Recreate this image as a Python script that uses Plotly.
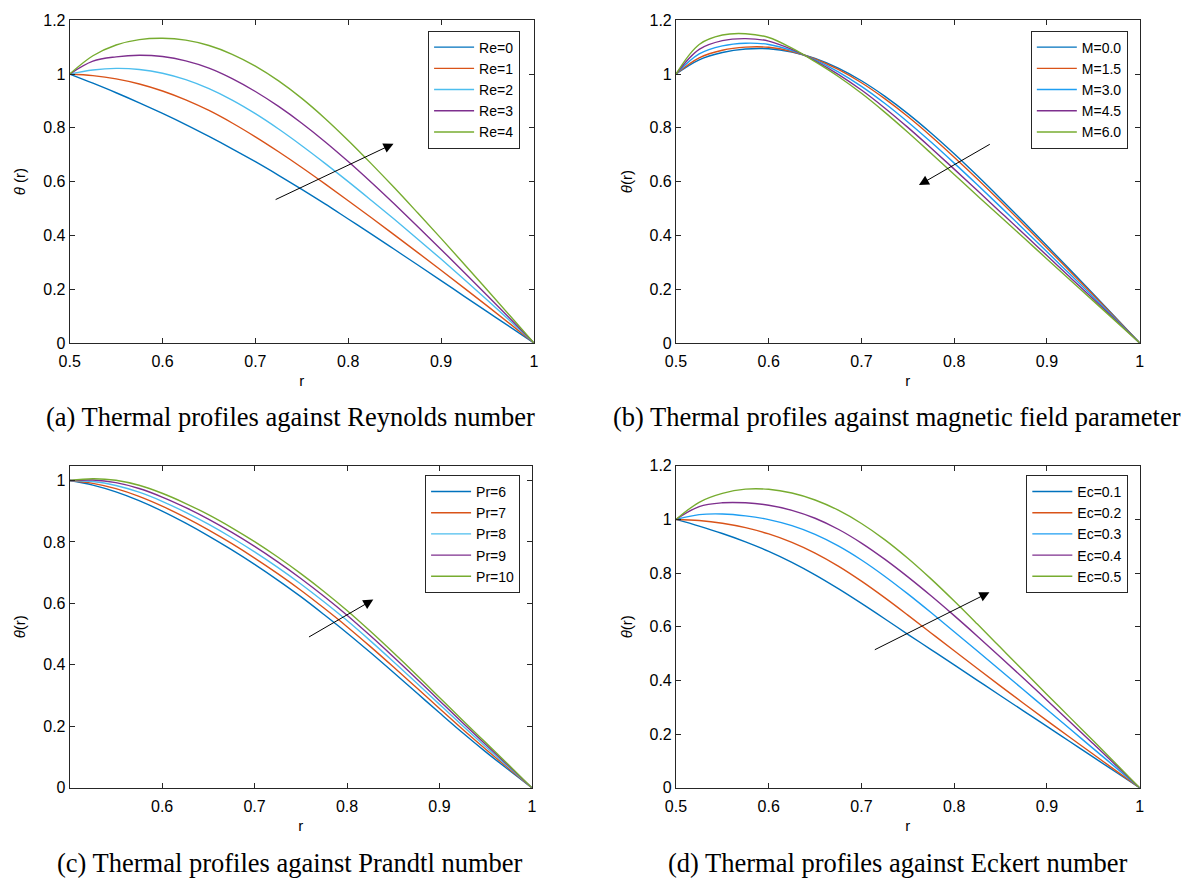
import plotly.graph_objects as go

# ---------------- data ----------------
r_vals = [0.5, 0.525, 0.55, 0.575, 0.6, 0.625, 0.65, 0.675, 0.7, 0.725, 0.75,
          0.775, 0.8, 0.825, 0.85, 0.875, 0.9, 0.925, 0.95, 0.975, 1.0]

# (a) Reynolds number
re_names = ["Re=0", "Re=1", "Re=2", "Re=3", "Re=4"]
theta_re0 = [1.0, 0.966, 0.9305, 0.893, 0.8535, 0.812, 0.768, 0.722, 0.674, 0.6235, 0.571,
             0.517, 0.461, 0.405, 0.3475, 0.290, 0.232, 0.1735, 0.1155, 0.0578, 0.0]
theta_re1 = [1.0, 0.994, 0.982, 0.963, 0.937, 0.904, 0.8645, 0.818, 0.7665, 0.711, 0.6525,
             0.5915, 0.529, 0.4655, 0.401, 0.336, 0.2705, 0.204, 0.137, 0.069, 0.0]
theta_re2 = [1.0, 1.015, 1.021, 1.017, 1.003, 0.979, 0.9455, 0.903, 0.8525, 0.7955, 0.7335,
             0.668, 0.600, 0.530, 0.459, 0.386, 0.312, 0.236, 0.159, 0.080, 0.0]
theta_re3 = [1.0, 1.048, 1.064, 1.070, 1.065, 1.049, 1.022, 0.983, 0.935, 0.8795, 0.817,
             0.7485, 0.6745, 0.5965, 0.5155, 0.4325, 0.348, 0.2625, 0.176, 0.0885, 0.0]
theta_re4 = [1.0, 1.068, 1.108, 1.128, 1.133, 1.126, 1.106, 1.0735, 1.0295, 0.9745, 0.9095,
             0.835, 0.753, 0.666, 0.576, 0.483, 0.389, 0.293, 0.196, 0.0985, 0.0]

# (b) magnetic field parameter
m_names = ["M=0.0", "M=1.5", "M=3.0", "M=4.5", "M=6.0"]
theta_m0 = [1.0, 1.053, 1.080, 1.093, 1.094, 1.082, 1.058, 1.022, 0.975, 0.918, 0.853,
            0.781, 0.7035, 0.6215, 0.5365, 0.4495, 0.3613, 0.272, 0.182, 0.0913, 0.0]
theta_m1 = [1.0, 1.060, 1.0885, 1.100, 1.0995, 1.084, 1.056, 1.017, 0.9676, 0.9085, 0.842,
            0.769, 0.691, 0.610, 0.526, 0.440, 0.3535, 0.266, 0.178, 0.0893, 0.0]
theta_m2 = [1.0, 1.0747, 1.1047, 1.1147, 1.110, 1.0873, 1.0526, 1.008, 0.9541, 0.8912, 0.8217,
            0.747, 0.6688, 0.5882, 0.5061, 0.4232, 0.3393, 0.2551, 0.1705, 0.0855, 0.0]
theta_m3 = [1.0, 1.0918, 1.1242, 1.1318, 1.1226, 1.0915, 1.0491, 0.9991, 0.9406, 0.874, 0.8016,
            0.7251, 0.6465, 0.5667, 0.4865, 0.4062, 0.325, 0.2442, 0.1631, 0.0818, 0.0]
theta_m4 = [1.0, 1.110, 1.145, 1.150, 1.136, 1.096, 1.046, 0.991, 0.9285, 0.8585, 0.7835,
            0.7055, 0.6265, 0.5475, 0.469, 0.391, 0.3125, 0.2345, 0.1565, 0.0785, 0.0]

# (c) Prandtl number
pr_names = ["Pr=6", "Pr=7", "Pr=8", "Pr=9", "Pr=10"]
theta_pr6 = [1.0, 0.985, 0.963, 0.9345, 0.9005, 0.862, 0.820, 0.775, 0.727, 0.676, 0.622,
             0.564, 0.504, 0.441, 0.376, 0.310, 0.244, 0.179, 0.117, 0.058, 0.0]
theta_pr7 = [1.0, 0.9909, 0.9736, 0.9485, 0.9167, 0.8799, 0.8393, 0.7952, 0.7477, 0.697, 0.643,
             0.585, 0.5244, 0.4603, 0.3939, 0.3262, 0.258, 0.1905, 0.1254, 0.0625, 0.0]
theta_pr8 = [1.0, 0.9966, 0.9839, 0.962, 0.9324, 0.8972, 0.858, 0.8146, 0.7677, 0.7173, 0.6633,
             0.6053, 0.5442, 0.479, 0.4112, 0.3419, 0.2715, 0.2016, 0.1335, 0.0668, 0.0]
theta_pr9 = [1.0, 1.0016, 0.993, 0.974, 0.9463, 0.9126, 0.8745, 0.8319, 0.7855, 0.7353, 0.6813,
             0.6233, 0.5617, 0.4955, 0.4266, 0.3558, 0.2835, 0.2114, 0.1407, 0.0706, 0.0]
theta_pr10 = [1.0, 1.006, 1.001, 0.9845, 0.9585, 0.926, 0.889, 0.847, 0.801, 0.751, 0.697,
              0.639, 0.577, 0.510, 0.440, 0.368, 0.294, 0.220, 0.147, 0.074, 0.0]

# (d) Eckert number
ec_names = ["Ec=0.1", "Ec=0.2", "Ec=0.3", "Ec=0.4", "Ec=0.5"]
theta_ec1 = [1.0, 0.975, 0.9475, 0.9165, 0.881, 0.840, 0.7935, 0.742, 0.687, 0.630, 0.572,
             0.515, 0.4578, 0.4005, 0.343, 0.286, 0.229, 0.1715, 0.114, 0.057, 0.0]
theta_ec2 = [1.0, 0.996, 0.986, 0.9695, 0.946, 0.9145, 0.8745, 0.826, 0.770, 0.7085, 0.6435,
             0.577, 0.5105, 0.4445, 0.379, 0.314, 0.2505, 0.1875, 0.125, 0.0623, 0.0]
theta_ec3 = [1.0, 1.018, 1.0205, 1.0135, 0.9995, 0.977, 0.9445, 0.9015, 0.849, 0.7885, 0.7225,
             0.653, 0.5818, 0.5098, 0.437, 0.3643, 0.2915, 0.2188, 0.146, 0.0733, 0.0]
theta_ec4 = [1.0, 1.048, 1.062, 1.062, 1.053, 1.034, 1.0045, 0.9635, 0.912, 0.852, 0.786,
             0.7155, 0.6415, 0.565, 0.4868, 0.4073, 0.3265, 0.2453, 0.1638, 0.082, 0.0]
theta_ec5 = [1.0, 1.064, 1.097, 1.113, 1.1125, 1.0985, 1.0725, 1.0345, 0.985, 0.925, 0.8555,
             0.7785, 0.696, 0.610, 0.5225, 0.435, 0.348, 0.2615, 0.175, 0.088, 0.0]

x_ticks = [0.5, 0.6, 0.7, 0.8, 0.9, 1.0]
x_ticktext = ["0.5", "0.6", "0.7", "0.8", "0.9", "1"]
x_ticks_c = [0.6, 0.7, 0.8, 0.9, 1.0]
x_ticktext_c = ["0.6", "0.7", "0.8", "0.9", "1"]
y_ticks = [0, 0.2, 0.4, 0.6, 0.8, 1.0, 1.2]
y_ticktext = ["0", "0.2", "0.4", "0.6", "0.8", "1", "1.2"]
y_ticks_c = [0, 0.2, 0.4, 0.6, 0.8, 1.0]
y_ticktext_c = ["0", "0.2", "0.4", "0.6", "0.8", "1"]

captions = [
    "(a) Thermal profiles against Reynolds number",
    "(b) Thermal profiles against magnetic field parameter",
    "(c) Thermal profiles against Prandtl number",
    "(d) Thermal profiles against Eckert number",
]

# ---------------- styling ----------------
W, H = 1194, 889
colors_a = ["#0072BD", "#D95319", "#4DBEEE", "#7E2F8E", "#77AC30"]
colors_b = ["#0072BD", "#D95319", "#1E9EF2", "#7E2F8E", "#77AC30"]
SANS = "Liberation Sans, Arial, sans-serif"
SERIF = "Liberation Serif, Times New Roman, serif"
AX = "#262626"


def px(x):
    return x / W


def py(y):
    return 1 - y / H


fig = go.Figure()

panels = [
    ([theta_re0, theta_re1, theta_re2, theta_re3, theta_re4], re_names, colors_a, "x", "y", "legend"),
    ([theta_m0, theta_m1, theta_m2, theta_m3, theta_m4], m_names, colors_b, "x2", "y2", "legend2"),
    ([theta_pr6, theta_pr7, theta_pr8, theta_pr9, theta_pr10], pr_names, colors_a, "x3", "y3", "legend3"),
    ([theta_ec1, theta_ec2, theta_ec3, theta_ec4, theta_ec5], ec_names, colors_b, "x4", "y4", "legend4"),
]
for series, names, cols, xa, ya, lg in panels:
    for s, n, c in zip(series, names, cols):
        fig.add_trace(go.Scatter(
            x=r_vals, y=s, name=n, mode="lines",
            line=dict(color=c, width=1.4, shape="spline", smoothing=1.0),
            xaxis=xa, yaxis=ya, legend=lg, showlegend=True,
        ))


def xd(x0, x1):
    return [px(x0), px(x1)]


def yd(top, bottom):
    return [py(bottom), py(top)]


axis_common = dict(
    showline=True, linecolor=AX, linewidth=1, mirror="ticks",
    ticks="inside", ticklen=5, tickcolor=AX, tickwidth=1,
    showgrid=False, zeroline=False,
    tickfont=dict(family=SANS, size=16, color="#000000"),
)
xtitle = dict(text="r", font=dict(family=SANS, size=15, color="#000000"), standoff=6)


def ytitle(t):
    return dict(text=t, font=dict(family=SANS, size=15, color="#000000"), standoff=13)


layout = dict(
    width=W, height=H, margin=dict(l=0, r=0, t=0, b=0),
    paper_bgcolor="white", plot_bgcolor="white",
    xaxis=dict(domain=xd(59.5, 530), range=[0.5, 1], anchor="y", tickvals=x_ticks, ticktext=x_ticktext,
               title=xtitle, ticklabelstandoff=4, **axis_common),
    yaxis=dict(domain=yd(12.5, 341.5), range=[0, 1.2], anchor="x", tickvals=y_ticks, ticktext=y_ticktext,
               title=ytitle("<i>θ</i> (r)"), **axis_common),
    xaxis2=dict(domain=xd(674, 1144), range=[0.5, 1], anchor="y2", tickvals=x_ticks, ticktext=x_ticktext,
                title=xtitle, ticklabelstandoff=4, **axis_common),
    yaxis2=dict(domain=yd(12.5, 341.5), range=[0, 1.2], anchor="x2", tickvals=y_ticks, ticktext=y_ticktext,
                title=ytitle("<i>θ</i>(r)"), **axis_common),
    xaxis3=dict(domain=xd(59.5, 528), range=[0.5, 1], anchor="y3", tickvals=x_ticks_c, ticktext=x_ticktext_c,
                title=xtitle, ticklabelstandoff=4, **axis_common),
    yaxis3=dict(domain=yd(466.7, 795), range=[0, 1.048], anchor="x3", tickvals=y_ticks_c, ticktext=y_ticktext_c,
                title=ytitle("<i>θ</i>(r)"), **axis_common),
    xaxis4=dict(domain=xd(674, 1144), range=[0.5, 1], anchor="y4", tickvals=x_ticks, ticktext=x_ticktext,
                title=xtitle, ticklabelstandoff=4, **axis_common),
    yaxis4=dict(domain=yd(466.7, 795), range=[0, 1.2], anchor="x4", tickvals=y_ticks, ticktext=y_ticktext,
                title=ytitle("<i>θ</i>(r)"), **axis_common),
)

legend_common = dict(
    bgcolor="white", bordercolor=AX, borderwidth=1,
    font=dict(family=SANS, size=14, color="#000000"),
    xanchor="right", yanchor="top", tracegroupgap=0, itemwidth=40,
)
layout["legend"] = dict(x=px(516), y=py(23), **legend_common)
layout["legend2"] = dict(x=px(1132), y=py(23), **legend_common)
layout["legend3"] = dict(x=px(516), y=py(476), **legend_common)
layout["legend4"] = dict(x=px(1132.5), y=py(476), **legend_common)

fig.update_layout(**layout)

# arrows: (head, tail) in data coordinates
arrows = [
    ("x", "y", 0.8488, 0.741, 0.7202, 0.5306),
    ("x2", "y2", 0.762, 0.587, 0.840, 0.742),
    ("x3", "y3", 0.8284, 0.6125, 0.7572, 0.488),
    ("x4", "y4", 0.838, 0.7285, 0.7128, 0.5117),
]
for xa, ya, hx, hy, tx, ty in arrows:
    fig.add_annotation(
        x=hx, y=hy, ax=tx, ay=ty, xref=xa, yref=ya, axref=xa, ayref=ya,
        text="", showarrow=True, arrowhead=2, arrowsize=2, arrowwidth=1, arrowcolor="#000000",
    )

# captions
cap_pos = [(283, 417), (898, 417), (283, 872), (899, 872)]
for txt, (cx, cy) in zip(captions, cap_pos):
    fig.add_annotation(
        x=px(cx), y=py(cy), xref="paper", yref="paper", text=txt, showarrow=False,
        xanchor="center", yanchor="middle", font=dict(family=SERIF, size=26.5, color="#000000"),
    )

fig.write_html("out.html")
